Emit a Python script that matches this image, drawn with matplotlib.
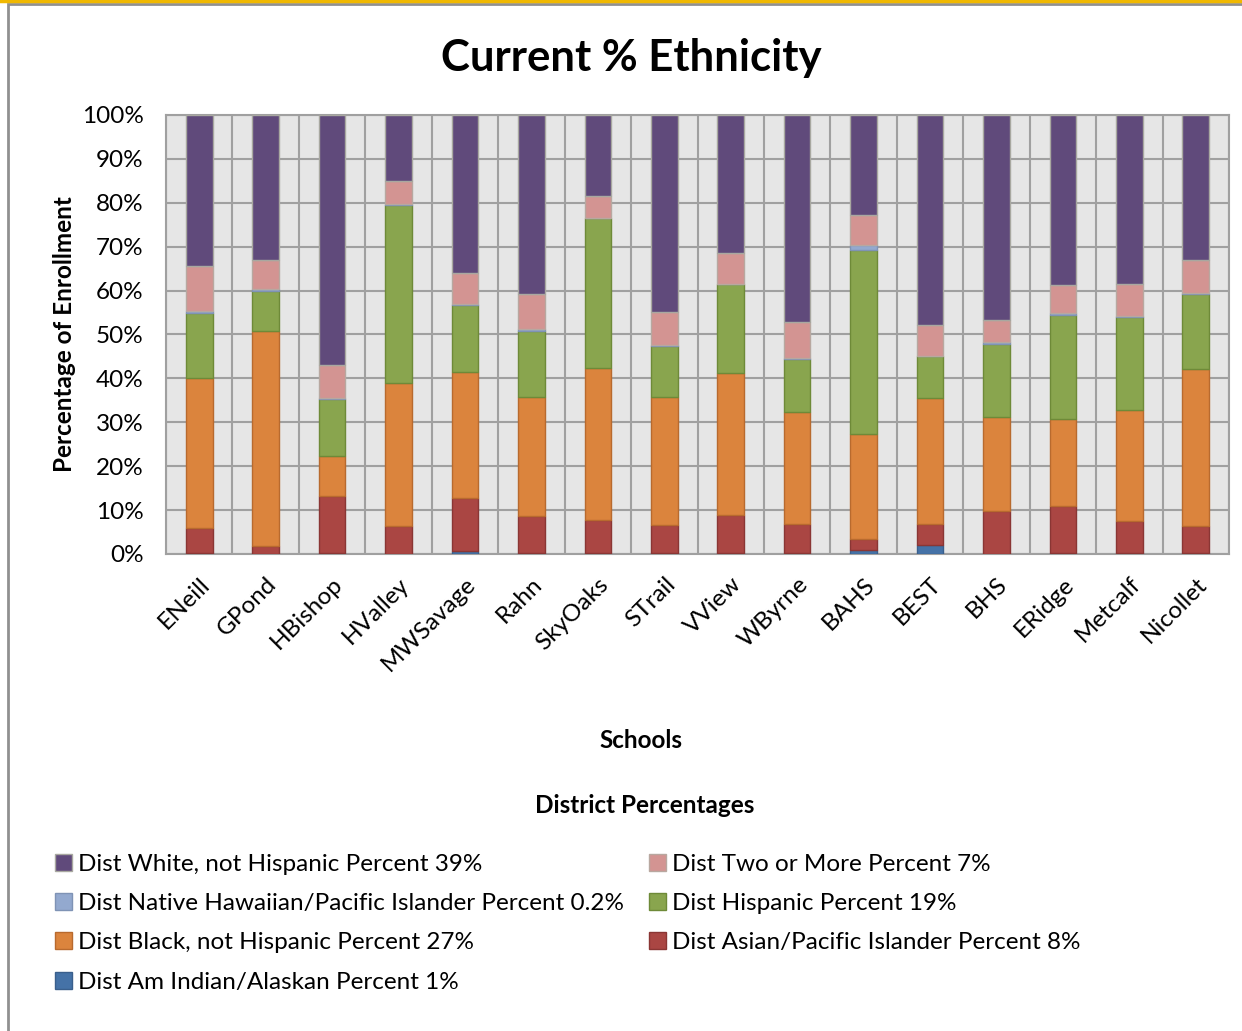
import numpy as np
import matplotlib.pyplot as plt
from matplotlib.patches import Rectangle, Patch
from matplotlib.lines import Line2D

plt.rcParams['font.family'] = ['Lato', 'DejaVu Sans']

schools = ['ENeill', 'GPond', 'HBishop', 'HValley', 'MWSavage', 'Rahn', 'SkyOaks', 'STrail',
           'VView', 'WByrne', 'BAHS', 'BEST', 'BHS', 'ERidge', 'Metcalf', 'Nicollet']

# cumulative tops (percent), bottom to top
am_indian_top = [0.2, 0.1, 0.2, 0.1, 0.7, 0.3, 0.2, 0.3, 0.3, 0.2, 0.9, 2.1, 0.1, 0.2, 0.3, 0.3]
asian_top     = [6.0, 1.7, 13.1, 6.3, 12.8, 8.7, 7.7, 6.6, 8.9, 6.9, 3.3, 6.8, 9.8, 10.9, 7.4, 6.3]
black_top     = [40.0, 50.9, 22.2, 39.0, 41.5, 35.8, 42.4, 35.8, 41.2, 32.3, 27.3, 35.5, 31.1, 30.7, 32.8, 42.1]
hispanic_top  = [55.0, 60.0, 35.4, 79.6, 56.7, 50.9, 76.5, 47.4, 61.4, 44.3, 69.2, 45.0, 47.8, 54.4, 53.9, 59.3]
hawaiian_top  = [55.4, 60.3, 35.5, 79.7, 56.9, 51.3, 76.6, 47.5, 61.5, 44.7, 70.3, 45.1, 48.3, 54.8, 54.3, 59.4]
two_more_top  = [65.6, 67.0, 43.1, 84.9, 63.9, 59.2, 81.5, 55.1, 68.5, 52.8, 77.2, 52.1, 53.3, 61.2, 61.6, 67.0]
white_top     = [100] * 16

labels = ['Dist Am Indian/Alaskan Percent 1%',
          'Dist Asian/Pacific Islander Percent 8%',
          'Dist Black, not Hispanic Percent 27%',
          'Dist Hispanic Percent 19%',
          'Dist Native Hawaiian/Pacific Islander Percent 0.2%',
          'Dist Two or More Percent 7%',
          'Dist White, not Hispanic Percent 39%']
colors = ['#4572A7', '#AA4643', '#DB843D', '#89A54E', '#93A9CF', '#D39492', '#604A7B']
edges = ['#3A5F8C', '#8A3634', '#B86A2E', '#6E8A38', '#7F93B5', '#B8A8A0', '#A8A8A0']

tops = np.array([am_indian_top, asian_top, black_top, hispanic_top,
                 hawaiian_top, two_more_top, white_top])
bottoms = np.vstack([np.zeros(16), tops[:-1]])
heights = tops - bottoms

fig = plt.figure(figsize=(12.42, 10.31), dpi=100)
ax = fig.add_axes([0.1337, 0.4627, 0.8558, 0.4258])
ax.set_facecolor('#E6E6E6')

x = np.arange(len(schools))
handles = []
for i in range(7):
    ax.bar(x, heights[i], bottom=bottoms[i], width=0.4, color=colors[i],
           edgecolor=edges[i], linewidth=1.0, zorder=3)
    handles.append(Patch(facecolor=colors[i], edgecolor=edges[i], label=labels[i]))

ax.set_xlim(-0.5, len(schools) - 0.5)
ax.set_ylim(0, 100)
ax.set_yticks(np.arange(0, 101, 10))
ax.set_yticklabels([f'{v}%' for v in range(0, 101, 10)], fontsize=17.5)
ax.set_xticks(x)
ax.set_xticklabels(schools, rotation=45, ha='right', rotation_mode='anchor', fontsize=17.5)
ax.tick_params(axis='y', length=0, pad=16)
ax.tick_params(axis='x', length=0, pad=14)

# grid: horizontal + vertical lines between categories
ax.yaxis.grid(True, color='#A0A0A0', linewidth=1.5, zorder=1)
for xv in np.arange(-0.5, len(schools), 1.0):
    ax.axvline(xv, color='#A0A0A0', linewidth=1.5, zorder=1)
for s in ax.spines.values():
    s.set_color('#A0A0A0')
    s.set_linewidth(1.5)

ax.set_ylabel('Percentage of Enrollment', fontsize=17.5, fontweight='bold', labelpad=4)

fig.text(0.508, 0.944, 'Current % Ethnicity', ha='center', va='center',
         fontsize=31.5, fontweight='bold')
fig.text(0.516, 0.282, 'Schools', ha='center', va='center', fontsize=17.5, fontweight='bold')
fig.text(0.519, 0.219, 'District Percentages', ha='center', va='center',
         fontsize=17.5, fontweight='bold')

# legend in reverse stacking order, filled row-wise in two columns
order = [6, 4, 2, 0, 5, 3, 1]
leg = fig.legend([handles[i] for i in order], [labels[i] for i in order],
                 ncol=2, loc='upper left', bbox_to_anchor=(0.027, 0.193),
                 frameon=False, fontsize=17.5, handlelength=0.7, handleheight=0.7,
                 handletextpad=0.25, labelspacing=0.75, columnspacing=1.0)

# frame of the chart area
fig.add_artist(Rectangle((0.0065, -0.01), 1.2, 1.006, transform=fig.transFigure,
                         fill=False, edgecolor='#909090', linewidth=2))
fig.add_artist(Line2D([0, 1], [0.999, 0.999], transform=fig.transFigure,
                      color='#F0B800', linewidth=2.5))

fig.savefig('out.png', dpi=100)
